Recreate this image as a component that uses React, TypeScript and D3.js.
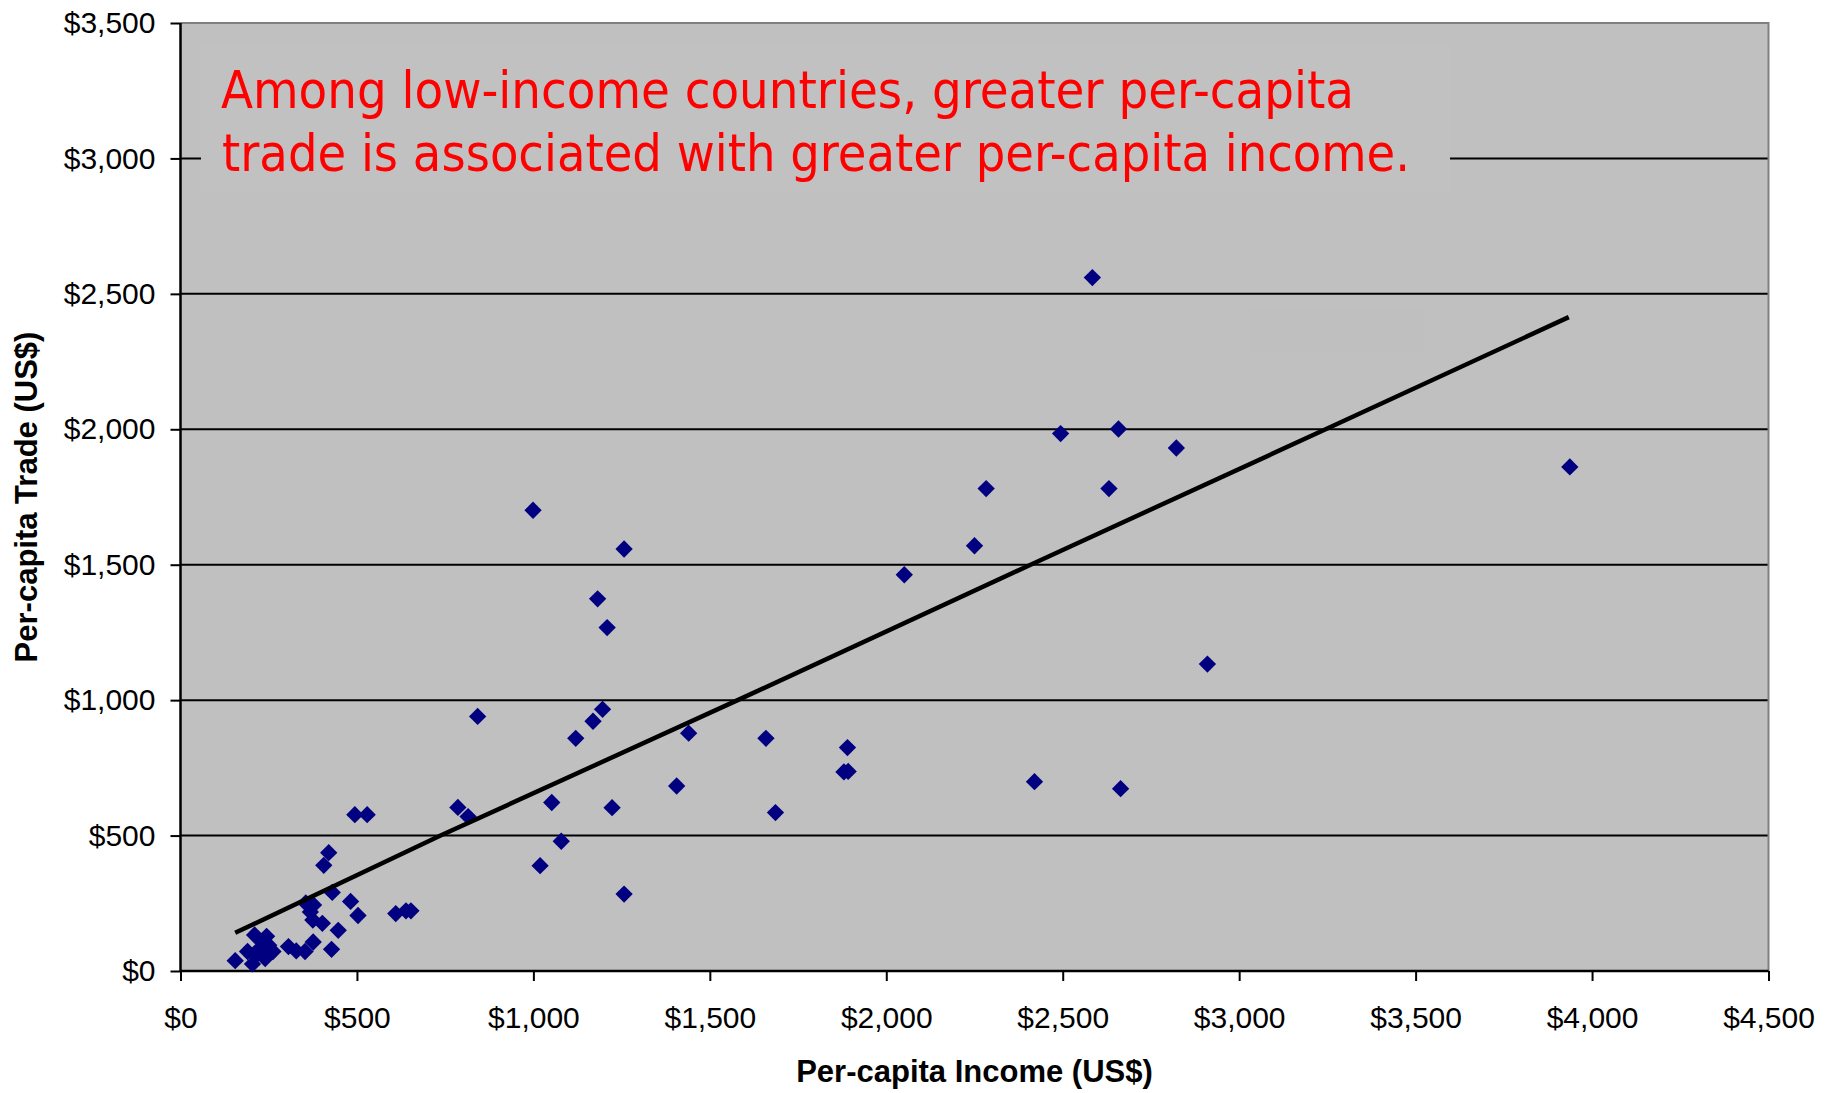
import * as d3 from 'd3'
import { useRef, useEffect } from 'react'

// per-capita income (x) and per-capita trade (y), US$
const incomeX = [
  155, 204, 210, 244, 190, 222, 262, 240, 232, 215, 250,
  306, 328, 353, 376, 402, 375, 355, 377, 368, 430, 406, 420, 482, 503, 447, 428, 494, 529,
  610, 639, 653, 786, 815, 842, 999, 1019, 1052, 1079, 1120, 1169, 1182, 1196, 1209, 1223, 1257, 1257,
  1406, 1440, 1659, 1686, 1880, 1892, 1890, 2051,
  2250, 2283, 2420, 2494, 2584, 2631, 2658, 2664, 2822, 2910, 3937,
]
const tradeY = [
  38, 26, 133, 128, 72, 80, 72, 46, 105, 58, 95,
  90, 74, 72, 107, 176, 188, 251, 244, 218, 290, 390, 437, 257, 205, 150, 80, 577, 577,
  212, 222, 222, 604, 570, 940, 1701, 389, 622, 479, 859, 922, 1374, 966, 1268, 603, 1558, 284,
  683, 878, 859, 585, 735, 737, 825, 1463,
  1570, 1781, 699, 1984, 2560, 1781, 2001, 673, 1931, 1133, 1861,
]

// trend line
const trendX = [155, 737, 1579, 2409, 3245, 3934]
const trendY = [141, 500, 1000, 1500, 2000, 2414]

const xTicks = [0, 500, 1000, 1500, 2000, 2500, 3000, 3500, 4000, 4500]
const yTicks = [0, 500, 1000, 1500, 2000, 2500, 3000, 3500]

const noteLines = [
  'Among low-income countries, greater per-capita',
  'trade is associated with greater per-capita income.',
]
const xTitle = 'Per-capita Income (US$)'
const yTitle = 'Per-capita Trade (US$)'

const width = 1825
const height = 1093
const left = 180.5
const right = 1768.5
const top = 23
const bottom = 971

export default function App() {
  const gx = useRef<SVGGElement>(null)
  const gy = useRef<SVGGElement>(null)

  const x = d3.scaleLinear([0, 4500], [left, right])
  const y = d3.scaleLinear([0, 3500], [bottom, top])
  const fmt = d3.format('$,')

  const pts = incomeX.map((v, i) => [v, tradeY[i]] as [number, number])
  const trend = trendX.map((v, i) => [v, trendY[i]] as [number, number])
  const line = d3.line<[number, number]>((d) => x(d[0]), (d) => y(d[1]))
  const diamond = d3.symbol(d3.symbolSquare, 150)()

  useEffect(() => {
    const ax = d3.select(gx.current)
    ax.call(d3.axisBottom(x).tickValues(xTicks).tickFormat(fmt as any).tickSize(10).tickPadding(26) as any)
    ax.select('.domain').remove()
    ax.selectAll('line').attr('stroke', '#000').attr('stroke-width', 2)
    ax.selectAll('text')
      .attr('font-family', '"Liberation Sans", Arial, sans-serif')
      .attr('font-size', 30)
      .attr('fill', '#000')

    const ay = d3.select(gy.current)
    ay.call(d3.axisLeft(y).tickValues(yTicks).tickFormat(fmt as any).tickSize(10).tickPadding(15) as any)
    ay.select('.domain').remove()
    ay.selectAll('line').attr('stroke', '#000').attr('stroke-width', 2)
    ay.selectAll('text')
      .attr('font-family', '"Liberation Sans", Arial, sans-serif')
      .attr('font-size', 30)
      .attr('fill', '#000')
  }, [])

  return (
    <svg
      width={width}
      height={height}
      style={{ position: 'absolute', left: 0, top: 0, background: '#fff' }}
    >
      <rect x={left} y={top} width={right - left} height={bottom - top} fill="#c0c0c0" />

      {/* gridlines */}
      <g stroke="#000" strokeWidth={2}>
        {yTicks.slice(1, -1).map((t) => (
          <line key={t} x1={left} x2={right} y1={y(t)} y2={y(t)} />
        ))}
      </g>

      {/* frame: grey top/right, black axes */}
      <path
        d={`M${left},${top}H${right}V${bottom}`}
        fill="none"
        stroke="#808080"
        strokeWidth={2}
      />
      <line x1={left} x2={right} y1={bottom} y2={bottom} stroke="#000" strokeWidth={2.5} />
      <line x1={left} x2={left} y1={top} y2={bottom} stroke="#000" strokeWidth={2.5} />

      <g ref={gx} transform={`translate(0,${bottom})`} />
      <g ref={gy} transform={`translate(${left},0)`} />

      {/* faint empty box */}
      <rect x={1250} y={308} width={175} height={45} fill="#bfbfbf" />

      {/* annotation box */}
      <rect x={201} y={45} width={1249} height={147} fill="#c1c1c1" />
      <g
        fill="#ff0000"
        fontFamily='"DejaVu Sans Condensed", "DejaVu Sans", Tahoma, sans-serif'
        fontSize={52}
      >
        <text x={221} y={108} textLength={1133} lengthAdjust="spacingAndGlyphs">
          {noteLines[0]}
        </text>
        <text x={222} y={171} textLength={1188} lengthAdjust="spacingAndGlyphs">
          {noteLines[1]}
        </text>
      </g>

      <g fill="#000080">
        {pts.map((d, i) => (
          <path
            key={i}
            d={diamond ?? undefined}
            transform={`translate(${x(d[0])},${y(d[1])}) rotate(45)`}
          />
        ))}
      </g>

      <path
        d={line(trend) ?? undefined}
        fill="none"
        stroke="#000"
        strokeWidth={4.5}
        strokeLinecap="butt"
      />

      <text
        x={(left + right) / 2}
        y={1082}
        textAnchor="middle"
        fontFamily='"Liberation Sans", Arial, sans-serif'
        fontWeight="bold"
        fontSize={31}
      >
        {xTitle}
      </text>
      <text
        transform={`translate(37,${(top + bottom) / 2}) rotate(-90)`}
        textAnchor="middle"
        fontFamily='"Liberation Sans", Arial, sans-serif'
        fontWeight="bold"
        fontSize={31}
      >
        {yTitle}
      </text>
    </svg>
  )
}
